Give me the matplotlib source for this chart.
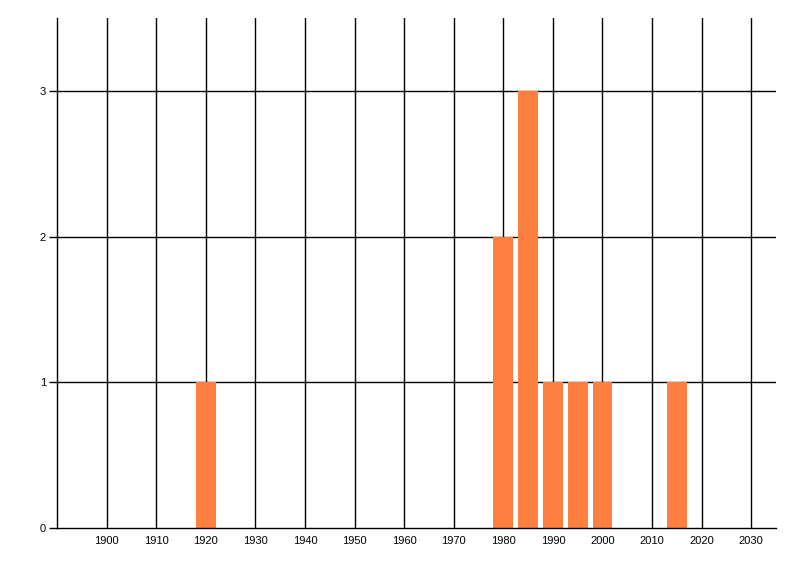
import matplotlib
matplotlib.use("Agg")
import matplotlib.pyplot as plt

years = [1920, 1980, 1985, 1990, 1995, 2000, 2015]
counts = [1, 2, 3, 1, 1, 1, 1]
xticks = list(range(1900, 2031, 10))
yticks = [0, 1, 2, 3]

plt.rcParams['font.family'] = ['Liberation Sans', 'DejaVu Sans']

fig = plt.figure(figsize=(8, 5.76), dpi=100)
ax = fig.add_axes([0.0715, 0.0833, 0.8985, 0.8854])

ax.bar(years, counts, width=4, color='#FF7F40', zorder=3)

for x in xticks:
    ax.axvline(x, color='black', lw=1, zorder=1)
for y in yticks[1:]:
    ax.axhline(y, color='black', lw=1, zorder=1)

ax.set_xlim(1890, 2035)
ax.set_ylim(0, 3.5)
ax.set_xticks(xticks)
ax.set_yticks(yticks)
ax.tick_params(axis='x', length=0, pad=6, labelsize=8)
ax.tick_params(axis='y', length=6, width=1, pad=2, labelsize=8)

for s in ['top', 'right']:
    ax.spines[s].set_visible(False)
for s in ['left', 'bottom']:
    ax.spines[s].set_linewidth(1)
    ax.spines[s].set_zorder(4)

fig.savefig('out.png', dpi=100)
